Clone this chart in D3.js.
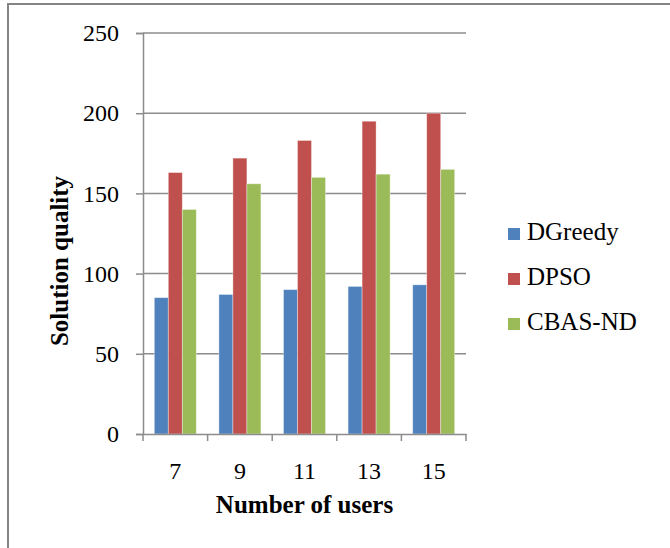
<!DOCTYPE html>
<html lang="en">
<head>
    <meta charset="UTF-8">
    <title>Solution quality</title>
    <style>
        body { margin: 0; background: #fff; }
    </style>
</head>
<body>
    <svg width="670" height="548"></svg>
    <script src="https://d3js.org/d3.v7.min.js"></script>
    <script>
        var users = ["7", "9", "11", "13", "15"]
        var seriesNames = ["DGreedy", "DPSO", "CBAS-ND"]
        var dgreedy = [85, 87, 90, 92, 93]
        var dpso = [163, 172, 183, 195, 200]
        var cbas = [140, 156, 160, 162, 165]
        var yTicks = [0, 50, 100, 150, 200, 250]
        var colors = ["#4F81BD", "#C0504D", "#9BBB59"]

        var values = [dgreedy, dpso, cbas]
        var serif = "'Liberation Serif', 'Times New Roman', serif"

        var svg = d3.select("svg")
        let pos = { left: 143, top: 33, right: 466, bottom: 434 }

        // outer frame (only top / left edges visible)
        svg.append("rect").attr("x", 8).attr("y", 4).attr("width", 700).attr("height", 600)
            .attr("fill", "none").attr("stroke", "#858585").attr("stroke-width", 2)

        var x = d3.scaleBand().domain(users).range([pos.left, pos.right])
        var bw = x.bandwidth()
        var x1 = d3.scaleBand().domain(seriesNames).range([bw * 0.175, bw * 0.825])
        var y = d3.scaleLinear().domain([0, 250]).range([pos.bottom, pos.top])

        // gridlines
        svg.append("g").selectAll("line").data(yTicks.slice(1)).enter().append("line")
            .attr("x1", pos.left).attr("x2", pos.right)
            .attr("y1", d => y(d)).attr("y2", d => y(d))
            .style("stroke", "#8c8c8c").style("stroke-width", 1.5)

        // bars
        var groups = svg.append("g").selectAll("g").data(users).enter().append("g")
            .attr("transform", d => `translate(${x(d)},0)`)
        groups.selectAll("rect").data((d, i) => seriesNames.map((s, j) => ({ s: s, v: values[j][i], c: colors[j] })))
            .enter().append("rect")
            .attr("x", d => x1(d.s)).attr("width", x1.bandwidth())
            .attr("y", d => y(d.v)).attr("height", d => y(0) - y(d.v))
            .style("fill", d => d.c)
            .style("stroke", "rgba(255,255,255,0.45)").style("stroke-width", 0.8)

        // y axis
        var yAxis = svg.append("g").attr("transform", `translate(${pos.left},0)`)
            .call(d3.axisLeft(y).tickValues(yTicks).tickSize(7).tickPadding(17))
        yAxis.select(".domain").attr("stroke", "#8c8c8c").attr("stroke-width", 1.5)
        yAxis.selectAll(".tick line").attr("stroke", "#8c8c8c").attr("stroke-width", 1.5)
        yAxis.selectAll("text").style("font-size", "24px").style("font-family", serif).style("fill", "#000")

        // x axis
        var xAxis = svg.append("g").attr("transform", `translate(0,${pos.bottom})`)
            .call(d3.axisBottom(x).tickSize(0).tickPadding(28))
        xAxis.select(".domain").attr("stroke", "#8c8c8c").attr("stroke-width", 1.5)
        xAxis.selectAll("text").style("font-size", "24px").style("font-family", serif).style("fill", "#000")
        // category separators
        xAxis.selectAll(".sep").data(users.concat(["end"])).enter().append("line")
            .attr("x1", (d, i) => i < users.length ? x(d) : pos.right)
            .attr("x2", (d, i) => i < users.length ? x(d) : pos.right)
            .attr("y1", 0).attr("y2", 7)
            .attr("stroke", "#8c8c8c").attr("stroke-width", 1.5)

        // axis titles
        svg.append("text").attr("x", (pos.left + pos.right) / 2).attr("y", 513)
            .attr("text-anchor", "middle").style("font-family", serif)
            .style("font-size", "25px").style("font-weight", "bold")
            .text("Number of users")
        svg.append("text").attr("transform", "translate(68,261) rotate(-90)")
            .attr("text-anchor", "middle").style("font-family", serif)
            .style("font-size", "25px").style("font-weight", "bold")
            .text("Solution quality")

        // legend
        var legend = svg.append("g").selectAll("g").data(seriesNames).enter().append("g")
            .attr("transform", (d, i) => `translate(508,${228 + i * 45})`)
        legend.append("rect").attr("width", 12).attr("height", 12).style("fill", (d, i) => colors[i])
        legend.append("text").attr("x", 19).attr("y", 12)
            .style("font-family", serif).style("font-size", "25px").text(d => d)
    </script>
</body>
</html>
